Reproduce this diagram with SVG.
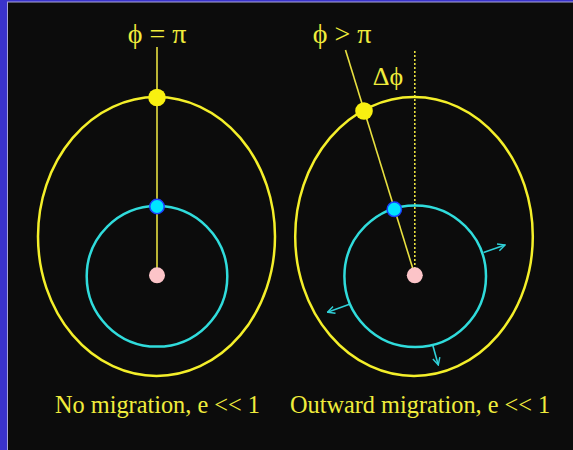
<svg xmlns="http://www.w3.org/2000/svg" width="573" height="450" viewBox="0 0 573 450">
<style>
.orbit-y{fill:none;stroke:#f4ef2a;stroke-width:2.5}
.orbit-c{fill:none;stroke:#30dcdc;stroke-width:2.5}
.radial{stroke:#e8e040;stroke-width:1.6}
.dotted{stroke:#e8e040;stroke-width:1.6;stroke-dasharray:2 2}
.planet-y{fill:#f8f010}
.planet-c{fill:#00e4ff;stroke:#1a40ff;stroke-width:1.5}
.star{fill:#fcc4c8}
.lbl{font-family:"Liberation Serif","DejaVu Serif",serif;fill:#f0ec3c}
.arrow{stroke:#30d0d8;stroke-width:1.6;fill:none;marker-end:url(#ah)}
</style>
<defs>
<marker id="ah" viewBox="0 0 10 10" refX="9" refY="5" markerWidth="9" markerHeight="9" markerUnits="userSpaceOnUse" orient="auto">
<path d="M1,1 L9,5 L1,9" fill="none" stroke="#30d0d8" stroke-width="1.6"/>
</marker>
</defs>
<rect width="573" height="450" fill="#3a33cc"/>
<rect x="7" y="1.5" width="566" height="448.5" fill="#a8a4d8"/>
<rect x="8" y="2.5" width="565" height="447.5" fill="#0c0c0c"/>

<g id="connectors">
<line class="radial" x1="157" y1="47" x2="157" y2="275"/>
<line class="radial" x1="345.5" y1="50" x2="414.8" y2="275"/>
<line class="dotted" x1="414.8" y1="51" x2="414.8" y2="275"/>
<line class="arrow" x1="483.5" y1="252.5" x2="505" y2="245"/>
<line class="arrow" x1="349.5" y1="304.3" x2="327.5" y2="312.3"/>
<line class="arrow" x1="432.7" y1="345" x2="438.3" y2="365"/>
</g>

<g id="left-system">
<ellipse class="orbit-y" cx="156.5" cy="236.5" rx="118.5" ry="139.5"/>
<circle class="orbit-c" cx="157" cy="276.3" r="70.3"/>
<circle class="star" cx="157" cy="275.3" r="8"/>
<circle class="planet-y" cx="157" cy="97.5" r="8.8"/>
<circle class="planet-c" cx="157" cy="206.5" r="7.2"/>
<text class="lbl" x="157" y="43" font-size="28" text-anchor="middle">ϕ = π</text>
</g>

<g id="right-system">
<ellipse class="orbit-y" cx="414" cy="236.5" rx="118.8" ry="139.5"/>
<circle class="orbit-c" cx="415.2" cy="276.3" r="70.8"/>
<circle class="star" cx="414.8" cy="275.3" r="8"/>
<circle class="planet-y" cx="364" cy="111" r="8.8"/>
<circle class="planet-c" cx="394.3" cy="209.3" r="7.2"/>
<text class="lbl" x="342" y="43" font-size="28" text-anchor="middle">ϕ &gt; π</text>
<text class="lbl" x="388" y="85" font-size="26" text-anchor="middle">Δϕ</text>
</g>

<g id="captions">
<text class="lbl" x="55" y="413" font-size="24.3">No migration, e &lt;&lt; 1</text>
<text class="lbl" x="290" y="413" font-size="24.3">Outward migration, e &lt;&lt; 1</text>
</g>
</svg>
